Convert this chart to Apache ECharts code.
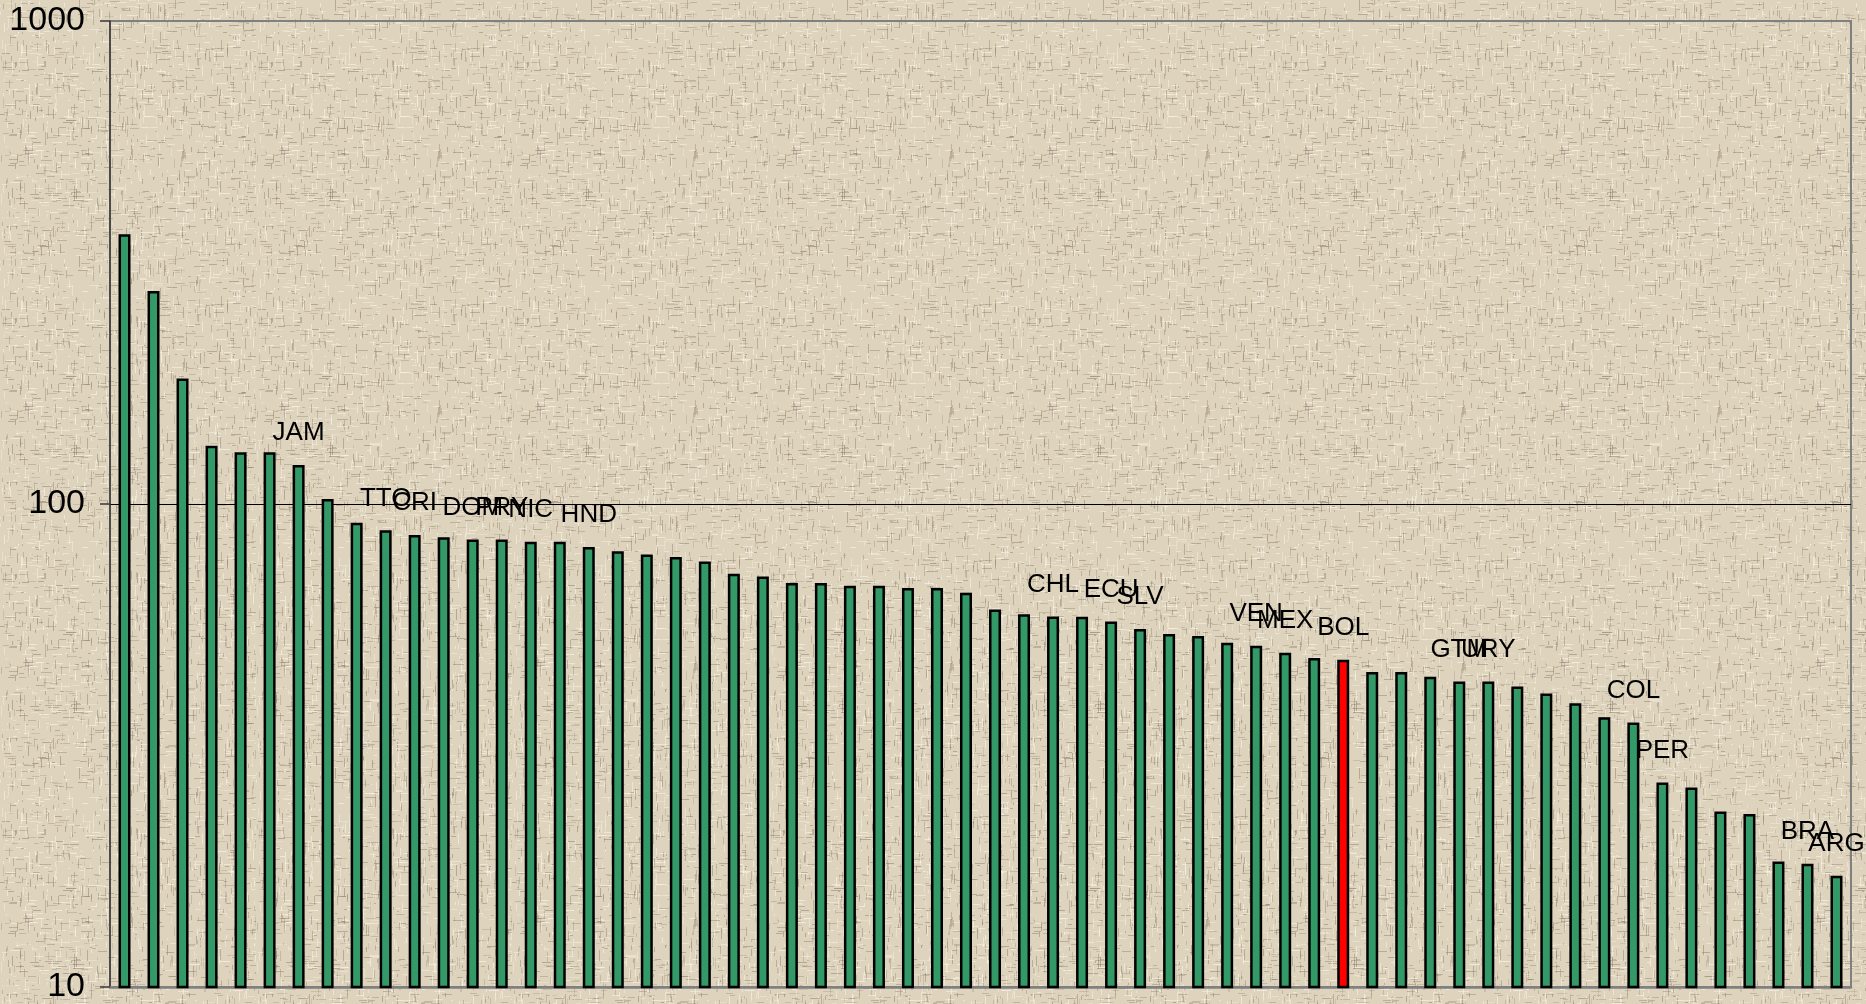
<!DOCTYPE html>
<html>
<head>
<meta charset="utf-8">
<script src="https://cdn.jsdelivr.net/npm/echarts@6.0.0/dist/echarts.min.js"></script>
<style>
  html, body { margin: 0; padding: 0; }
  #chart { width: 1866px; height: 1004px; }
</style>
</head>
<body>
<div id="chart"></div>
<script>
// bar values, sorted high to low (log scale 10..1000)
const values = [
  362, 276, 182, 132, 128, 128, 120.4, 102.4, 91.4, 88.2,
  86.3, 85.3, 84.4, 84.4, 83.5, 83.5, 81.5, 79.8, 78.6, 77.7,
  76.0, 71.7, 70.8, 68.6, 68.6, 67.7, 67.7, 67.0, 67.0, 65.5,
  60.5, 59.1, 58.5, 58.4, 57.1, 55.1, 53.8, 53.3, 51.6, 50.9,
  49.2, 48.0, 47.6, 44.9, 44.9, 43.9, 42.9, 42.9, 41.9, 40.5,
  38.7, 36.2, 35.3, 26.5, 25.9, 23.1, 22.8, 18.2, 18.0, 17.0
]
// country codes shown above some bars ('' = no label)
const codes = [
  '', '', '', '', '', '', 'JAM', '', '', 'TTO',
  'CRI', '', 'DOM', 'PRY', 'NIC', '', 'HND', '', '', '',
  '', '', '', '', '', '', '', '', '', '',
  '', '', 'CHL', '', 'ECU', 'SLV', '', '', '', 'VEN',
  'MEX', '', 'BOL', '', '', '', 'GTM', 'URY', '', '',
  '', '', 'COL', 'PER', '', '', '', '', 'BRA', 'ARG'
]
const highlight = 'BOL'
const yTicks = [10, 100, 1000]

// canvas-like weave texture for the page background
function makeTexture() {
  const c = document.createElement('canvas')
  c.width = 256
  c.height = 256
  const g = c.getContext('2d')
  g.fillStyle = '#DED3BC'
  g.fillRect(0, 0, 256, 256)
  let s = 11
  const next = () => { s = (s * 16807) % 2147483647; return s / 2147483647 }
  for (let i = 0; i < 2200; i++) {
    const x = Math.floor(next() * 256)
    const y = Math.floor(next() * 256)
    const len = 2 + Math.floor(next() * 10)
    const dark = next() < 0.55
    g.fillStyle = dark
      ? 'rgba(135,118,100,' + (0.18 + next() * 0.3).toFixed(2) + ')'
      : 'rgba(248,243,230,' + (0.3 + next() * 0.4).toFixed(2) + ')'
    if (next() < 0.5) g.fillRect(x, y, len, 1)
    else g.fillRect(x, y, 1, len)
  }
  return c.toDataURL()
}
document.getElementById('chart').style.background = 'url(' + makeTexture() + ') repeat'

const FONT = 'Liberation Sans, Arial, sans-serif'
const myChart = echarts.init(document.getElementById('chart'))

myChart.setOption({
  backgroundColor: 'transparent',
  animation: false,
  grid: {
    left: 110,
    right: 15,
    top: 21,
    bottom: 14,
    show: true,
    borderColor: '#808080',
    borderWidth: 2,
    backgroundColor: 'transparent'
  },
  xAxis: {
    type: 'category',
    data: codes.map((c, i) => String(i)),
    axisLine: { show: true, lineStyle: { color: '#808080', width: 2.5 } },
    axisTick: { show: false },
    axisLabel: { show: false },
    splitLine: { show: false }
  },
  yAxis: {
    type: 'log',
    logBase: 10,
    min: yTicks[0],
    max: yTicks[yTicks.length - 1],
    axisLine: { show: true, lineStyle: { color: '#3a3a3a', width: 1.5 } },
    axisTick: { show: true, length: 10, lineStyle: { color: '#3a3a3a', width: 1.5 } },
    axisLabel: {
      margin: 25,
      color: '#000',
      fontSize: 34,
      fontFamily: FONT,
      formatter: (v) => String(Math.round(v))
    },
    splitLine: {
      show: true,
      showMinLine: false,
      showMaxLine: false,
      lineStyle: { color: '#000', width: 1 }
    }
  },
  series: [
    {
      type: 'bar',
      barWidth: 12,
      data: values.map((v, i) => ({
        value: v,
        itemStyle: {
          color: codes[i] === highlight ? '#FF0000' : '#339966',
          borderColor: '#000',
          borderWidth: 2.5
        },
        label: {
          show: codes[i] !== '',
          formatter: codes[i]
        }
      })),
      label: {
        position: 'top',
        distance: 19,
        color: '#000',
        fontSize: 26,
        fontFamily: FONT
      }
    }
  ]
})
</script>
</body>
</html>
